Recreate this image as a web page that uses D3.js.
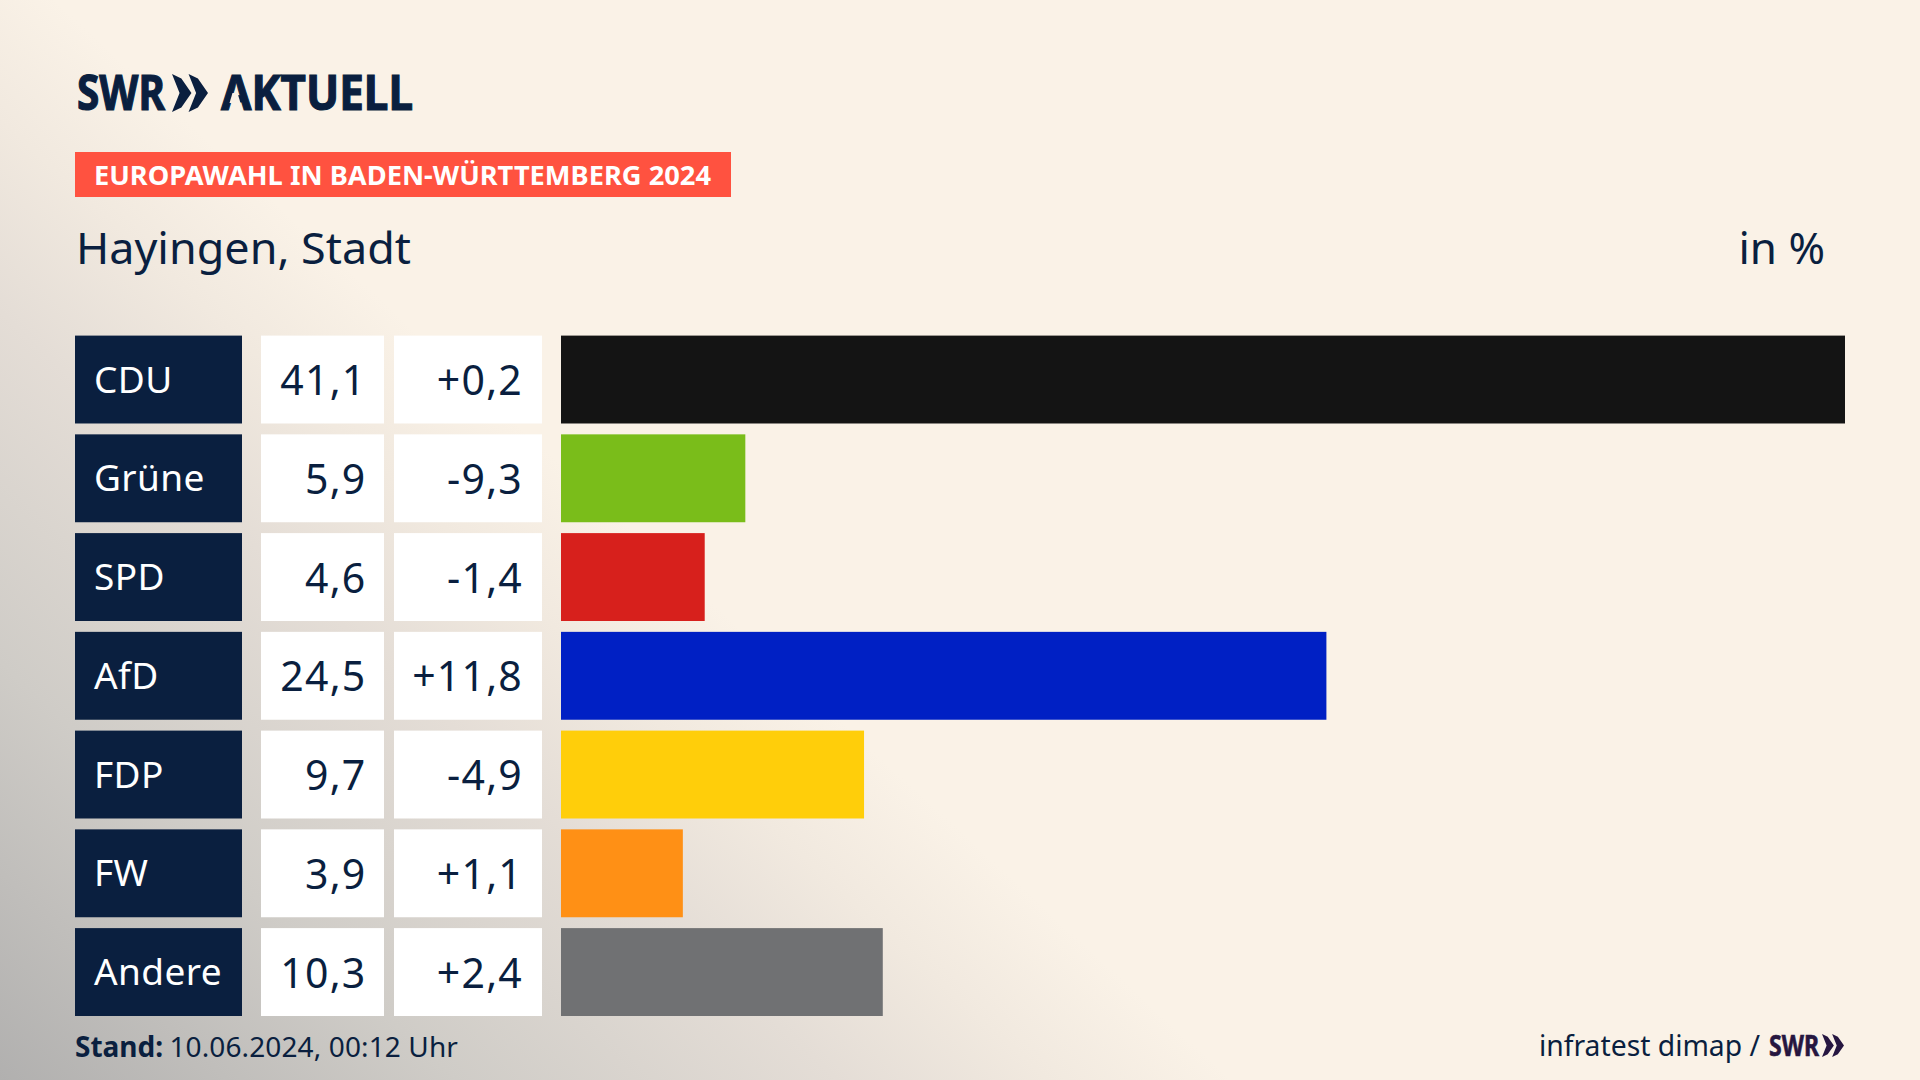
<!doctype html>
<html lang="de">
<head>
<meta charset="utf-8">
<title>Europawahl in Baden-Württemberg 2024 - Hayingen, Stadt</title>
<script src="https://cdn.jsdelivr.net/npm/d3@7"></script>
<style>
  html, body { margin: 0; padding: 0; background: #faf2e7; }
  svg { display: block; }
  text { font-family: "Noto Sans", sans-serif; fill: #0a1f3f; }
</style>
</head>
<body>
<svg id="chart" width="1920" height="1080"></svg>
<script>
const parties = ["CDU", "Grüne", "SPD", "AfD", "FDP", "FW", "Andere"];
const shares = [41.1, 5.9, 4.6, 24.5, 9.7, 3.9, 10.3];
const changes = [0.2, -9.3, -1.4, 11.8, -4.9, 1.1, 2.4];
const colors = ["#141414", "#7abd1a", "#d7201c", "#0020c4", "#ffce0a", "#ff9015", "#707173"];

const navy = "#0a1f3f";
const svg = d3.select("#chart");

// background: cream with a grey diagonal wash from the lower left corner
const glow = svg.append("defs").append("linearGradient")
  .attr("id", "glow")
  .attr("gradientUnits", "userSpaceOnUse")
  .attr("x1", 0).attr("y1", 1080).attr("x2", 563).attr("y2", 466);
[[0, "#b1b0af"], [0.37, "#cfccc7"], [0.68, "#e4ddd6"], [0.85, "#f1e9df"], [1, "#faf2e7"]].forEach(s => {
  glow.append("stop").attr("offset", s[0]).attr("stop-color", s[1]);
});
svg.append("rect").attr("width", 1920).attr("height", 1080).attr("fill", "url(#glow)");

// scales
const y = d3.scaleBand().domain(parties).range([335.6, 1016]).paddingInner(0.11);
const x = d3.scaleLinear().domain([0, d3.max(shares)]).range([561, 1845]);
const de = d3.formatLocale({ decimal: ",", thousands: ".", grouping: [3], currency: ["", "€"], minus: "-" });
const fmtShare = de.format(".1f");
const fmtChange = de.format("+.1f");

// logo helpers
function chevrons(g, px, py, w, h, fill) {
  const a = w * 0.54, t = w * 0.28;
  [0, w - a].forEach(dx => {
    g.append("polygon")
      .attr("points", [[px + dx, py], [px + dx + a - t, py + h * 0.12], [px + dx + a, py + h / 2], [px + dx + a - t, py + h * 0.88], [px + dx, py + h], [px + dx + t * 0.75, py + h / 2]].join(" "))
      .attr("fill", fill);
  });
}
function logoText(px, py, size, len, fill, stroke, str) {
  return svg.append("text").attr("x", px).attr("y", py).attr("font-size", size).attr("font-weight", 700)
    .attr("textLength", len).attr("lengthAdjust", "spacingAndGlyphs")
    .style("fill", fill).style("stroke", fill).style("stroke-width", stroke).text(str);
}

// header
logoText(77, 110, 48, 88, navy, 1.2, "SWR");
chevrons(svg, 172, 74, 36, 38, navy);
logoText(221, 110, 48, 192, navy, 1.2, "AKTUELL");
// the logo A has no crossbar
svg.append("polygon").attr("points", "229.5,103 240.5,103 237.5,93 232.5,93").attr("fill", "#f9f1e6");

svg.append("rect").attr("x", 75).attr("y", 152).attr("width", 656).attr("height", 45).attr("fill", "#ff5240");
svg.append("text").attr("x", 94).attr("y", 185).attr("font-size", 27).attr("font-weight", 700)
  .attr("textLength", 617).attr("lengthAdjust", "spacingAndGlyphs")
  .style("fill", "#fff").text("EUROPAWAHL IN BADEN-WÜRTTEMBERG 2024");

svg.append("text").attr("x", 76).attr("y", 264).attr("font-size", 44)
  .attr("textLength", 335).attr("lengthAdjust", "spacingAndGlyphs").text("Hayingen, Stadt");
svg.append("text").attr("x", 1825).attr("y", 264).attr("font-size", 44)
  .attr("text-anchor", "end").text("in %");

// rows
const rows = svg.selectAll("g.row").data(parties).enter().append("g").attr("class", "row");

rows.append("rect").attr("x", 75).attr("width", 167)
  .attr("y", d => y(d)).attr("height", y.bandwidth()).attr("fill", navy);
rows.append("rect").attr("x", 261).attr("width", 123)
  .attr("y", d => y(d)).attr("height", y.bandwidth()).attr("fill", "#fff");
rows.append("rect").attr("x", 394).attr("width", 148)
  .attr("y", d => y(d)).attr("height", y.bandwidth()).attr("fill", "#fff");
rows.append("rect").attr("x", x(0))
  .attr("y", d => y(d)).attr("height", y.bandwidth())
  .attr("width", (d, i) => x(shares[i]) - x(0))
  .attr("fill", (d, i) => colors[i]);

const base = y.bandwidth() / 2 + 14.5;
rows.append("text").attr("x", 94).attr("y", d => y(d) + base - 1.5).attr("font-size", 37)
  .attr("letter-spacing", 0.4).style("fill", "#fff").text(d => d);
rows.append("text").attr("x", 366.5).attr("y", d => y(d) + base + 1).attr("font-size", 41)
  .attr("letter-spacing", 1.2).attr("text-anchor", "end").text((d, i) => fmtShare(shares[i]));
rows.append("text").attr("x", 523).attr("y", d => y(d) + base + 1).attr("font-size", 41)
  .attr("letter-spacing", 1.2).attr("text-anchor", "end").text((d, i) => fmtChange(changes[i]));

// footer
const stand = svg.append("text").attr("x", 75).attr("y", 1057).attr("font-size", 28);
stand.append("tspan").attr("font-weight", 700).text("Stand: ");
stand.append("tspan").attr("letter-spacing", 0.12).attr("dx", -1).text("10.06.2024, 00:12 Uhr");

svg.append("text").attr("x", 1539).attr("y", 1056).attr("font-size", 29)
  .attr("textLength", 221).attr("lengthAdjust", "spacingAndGlyphs").text("infratest dimap /");
logoText(1769, 1056, 28, 50, "#261640", 0.6, "SWR");
chevrons(svg, 1822, 1034, 22, 23, "#261640");
</script>
</body>
</html>
